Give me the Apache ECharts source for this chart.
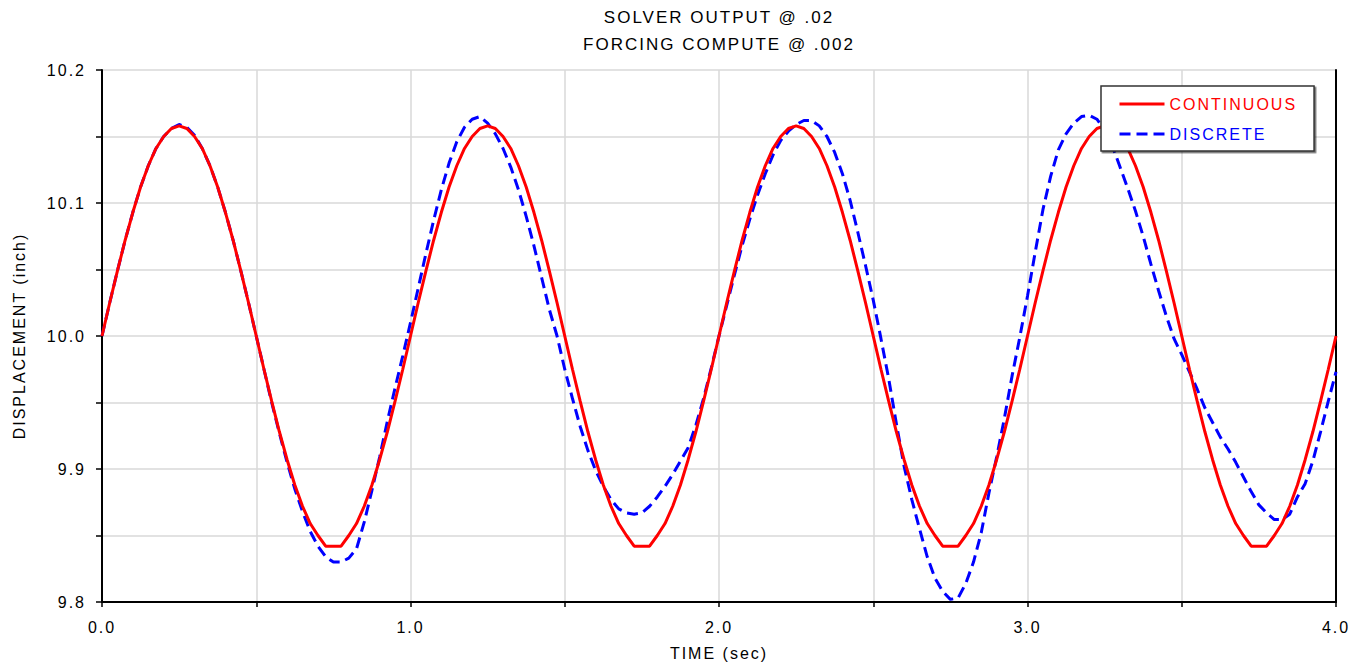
<!DOCTYPE html>
<html>
<head>
<meta charset="utf-8">
<script src="https://cdn.jsdelivr.net/npm/echarts@6/dist/echarts.min.js"></script>
<style>
html,body{margin:0;padding:0;background:#ffffff;}
#chart{width:1364px;height:666px;}
#chart text{letter-spacing:2px;}
</style>
</head>
<body>
<div id="chart"></div>
<script>
// ---- text ----
const titleLines = ['SOLVER OUTPUT @ .02', 'FORCING COMPUTE @ .002'];
const xAxisName = 'TIME (sec)';
const yAxisName = 'DISPLACEMENT (inch)';
const seriesNames = ['CONTINUOUS', 'DISCRETE'];

// ---- sampling (time step between listed values, seconds) ----
const sampleStep = 0.025;

// ---- CONTINUOUS (red) values, one array per 1-second cycle ----
const continuousCycle1 = [10.000,10.025,10.049,10.072,10.093,10.112,10.128,10.141,10.150,10.156,
  10.158,10.156,10.150,10.141,10.128,10.112,10.093,10.072,10.049,10.025,
  10.000,9.975,9.951,9.928,9.907,9.888,9.872,9.859,9.850,9.842,
  9.842,9.842,9.850,9.859,9.872,9.888,9.907,9.928,9.951,9.975];
const continuousCycle2 = [10.000,10.025,10.049,10.072,10.093,10.112,10.128,10.141,10.150,10.156,
  10.158,10.156,10.150,10.141,10.128,10.112,10.093,10.072,10.049,10.025,
  10.000,9.975,9.951,9.928,9.907,9.888,9.872,9.859,9.850,9.842,
  9.842,9.842,9.850,9.859,9.872,9.888,9.907,9.928,9.951,9.975];
const continuousCycle3 = [10.000,10.025,10.049,10.072,10.093,10.112,10.128,10.141,10.150,10.156,
  10.158,10.156,10.150,10.141,10.128,10.112,10.093,10.072,10.049,10.025,
  10.000,9.975,9.951,9.928,9.907,9.888,9.872,9.859,9.850,9.842,
  9.842,9.842,9.850,9.859,9.872,9.888,9.907,9.928,9.951,9.975];
const continuousCycle4 = [10.000,10.025,10.049,10.072,10.093,10.112,10.128,10.141,10.150,10.156,
  10.158,10.156,10.150,10.141,10.128,10.112,10.093,10.072,10.049,10.025,
  10.000,9.975,9.951,9.928,9.907,9.888,9.872,9.859,9.850,9.842,
  9.842,9.842,9.850,9.859,9.872,9.888,9.907,9.928,9.951,9.975];
const continuousEnd = [10.000];

// ---- DISCRETE (blue dashed) values, one array per 1-second cycle ----
const discreteCycle1 = [10.000,10.025,10.049,10.072,10.093,10.112,10.128,10.141,10.150,10.156,
  10.159,10.157,10.151,10.141,10.128,10.112,10.093,10.072,10.049,10.025,
  10.000,9.975,9.950,9.927,9.905,9.885,9.868,9.853,9.842,9.834,
  9.830,9.830,9.833,9.840,9.860,9.884,9.909,9.936,9.961,9.985];
const discreteCycle2 = [10.010,10.036,10.062,10.087,10.110,10.130,10.146,10.157,10.163,10.165,
  10.160,10.152,10.141,10.127,10.110,10.090,10.068,10.044,10.020,10.000,
  9.975,9.953,9.932,9.914,9.899,9.887,9.877,9.870,9.867,9.866,
  9.867,9.872,9.879,9.887,9.896,9.906,9.916,9.933,9.953,9.976];
const discreteCycle3 = [10.000,10.023,10.046,10.068,10.088,10.106,10.122,10.136,10.147,10.154,
  10.159,10.162,10.162,10.158,10.150,10.138,10.122,10.102,10.078,10.053,
  10.027,9.998,9.968,9.934,9.902,9.877,9.855,9.834,9.818,9.808,
  9.802,9.803,9.814,9.830,9.852,9.882,9.909,9.938,9.970,9.999];
const discreteCycle4 = [10.030,10.063,10.095,10.120,10.140,10.152,10.160,10.165,10.166,10.163,
  10.155,10.143,10.127,10.111,10.094,10.075,10.054,10.034,10.015,9.998,
  9.986,9.973,9.960,9.946,9.935,9.924,9.915,9.905,9.894,9.883,
  9.873,9.867,9.862,9.862,9.866,9.879,9.889,9.906,9.928,9.951];
const discreteEnd = [9.973];

// ---- axis ticks ----
const xMin = 0, xMax = 4, xInterval = 0.5;
const yMin = 9.8, yMax = 10.2, yInterval = 0.05;

function toPairs(values) {
  return values.map((v, i) => [Math.round(i * sampleStep * 1000) / 1000, v]);
}
const continuousData = toPairs([].concat(continuousCycle1, continuousCycle2, continuousCycle3, continuousCycle4, continuousEnd));
const discreteData = toPairs([].concat(discreteCycle1, discreteCycle2, discreteCycle3, discreteCycle4, discreteEnd));

const FONT = '"Liberation Sans", Arial, sans-serif';

const chart = echarts.init(document.getElementById('chart'), null, {renderer: 'svg'});
const option = {
  animation: false,
  backgroundColor: '#ffffff',
  graphic: [
    {type: 'text', x: 719, y: 17, z: 10,
     style: {text: titleLines[0], fill: '#000', font: '17px ' + FONT,
             textAlign: 'center', textVerticalAlign: 'middle', align: 'center', verticalAlign: 'middle'}},
    {type: 'text', x: 719, y: 44, z: 10,
     style: {text: titleLines[1], fill: '#000', font: '17px ' + FONT,
             textAlign: 'center', textVerticalAlign: 'middle', align: 'center', verticalAlign: 'middle'}}
  ],
  legend: {
    orient: 'vertical',
    left: 1101,
    top: 86,
    padding: [10, 37, 9, 17],
    itemWidth: 45,
    itemHeight: 14,
    itemGap: 14,
    backgroundColor: '#ffffff',
    borderColor: '#333333',
    borderWidth: 1.5,
    shadowColor: 'rgba(0,0,0,0.55)',
    shadowOffsetX: 1.5,
    shadowOffsetY: 1.5,
    shadowBlur: 0,
    itemStyle: {opacity: 0},
    lineStyle: {width: 3},
    textStyle: {fontFamily: FONT, fontSize: 16},
    data: [
      {name: seriesNames[0], textStyle: {color: '#ff0000'}},
      {name: seriesNames[1], textStyle: {color: '#0000ff'}}
    ]
  },
  grid: {left: 102, right: 28, top: 70, bottom: 59, containLabel: false},
  xAxis: {
    type: 'value', min: xMin, max: xMax, interval: xInterval,
    name: xAxisName, nameLocation: 'middle', nameGap: 43,
    nameTextStyle: {fontFamily: FONT, fontSize: 16, color: '#000'},
    axisLine: {show: true, onZero: false, lineStyle: {color: '#000', width: 2}},
    axisTick: {show: true, length: 5, lineStyle: {color: '#000', width: 1.5}},
    axisLabel: {
      margin: 17, fontFamily: FONT, fontSize: 16, color: '#000',
      showMinLabel: true, showMaxLabel: true,
      formatter: function (v) { return Math.abs(v - Math.round(v)) < 1e-6 ? v.toFixed(1) : ''; }
    },
    splitLine: {show: true, lineStyle: {color: '#d9d9d9', width: 1.5}}
  },
  yAxis: [
    {
      type: 'value', min: yMin, max: yMax, interval: yInterval,
      name: yAxisName, nameLocation: 'middle', nameGap: 75, nameRotate: 90,
      nameTextStyle: {fontFamily: FONT, fontSize: 16, color: '#000'},
      axisLine: {show: true, onZero: false, lineStyle: {color: '#000', width: 2}},
      axisTick: {show: true, length: 6, lineStyle: {color: '#000', width: 1.5}},
      axisLabel: {
        margin: 16, fontFamily: FONT, fontSize: 16, color: '#000',
        showMinLabel: true, showMaxLabel: true,
        formatter: function (v) { const r = Math.round(v * 100); return r % 10 === 0 ? (r / 100).toFixed(1) : ''; }
      },
      splitLine: {show: true, lineStyle: {color: '#d9d9d9', width: 1.5}}
    },
    {
      type: 'value', position: 'right', min: yMin, max: yMax, interval: yInterval,
      axisLine: {show: true, onZero: false, lineStyle: {color: '#000', width: 2}},
      axisTick: {show: false}, axisLabel: {show: false}, splitLine: {show: false}
    }
  ],
  series: [
    {
      name: seriesNames[1], type: 'line', data: discreteData, yAxisIndex: 0,
      symbol: 'none', showSymbol: false, z: 2,
      itemStyle: {color: '#0000ff'},
      lineStyle: {color: '#0000ff', width: 3, type: [11, 6]}
    },
    {
      name: seriesNames[0], type: 'line', data: continuousData, yAxisIndex: 0,
      symbol: 'none', showSymbol: false, z: 3,
      itemStyle: {color: '#ff0000'},
      lineStyle: {color: '#ff0000', width: 3}
    }
  ]
};
chart.setOption(option);
</script>
</body>
</html>
